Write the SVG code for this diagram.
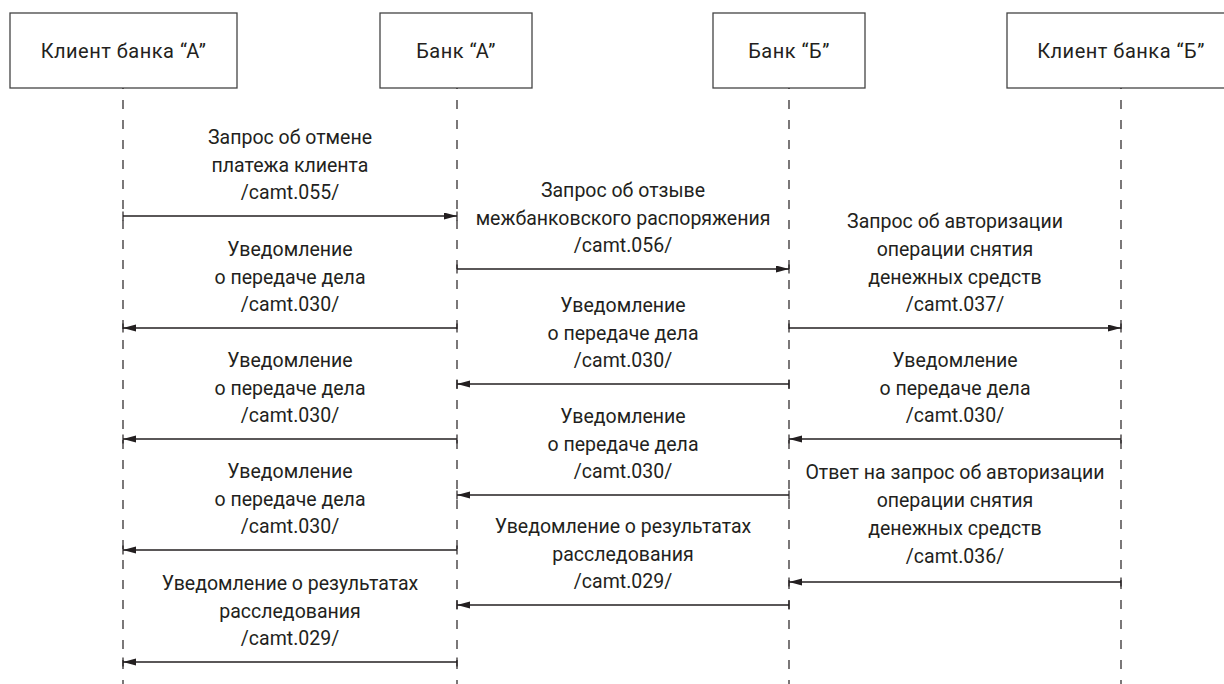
<svg xmlns="http://www.w3.org/2000/svg" width="1224" height="684" viewBox="0 0 1224 684">
<style>
.box{fill:#fff;stroke:#444;stroke-width:1.3}
.t{font-family:Roboto,"Liberation Sans",sans-serif;font-size:19.5px;fill:#231f20;text-anchor:middle}
.h{font-size:20px;letter-spacing:0.5px}
.life{stroke:#231f20;stroke-width:1.2;stroke-dasharray:9 11;stroke-dashoffset:-12;fill:none}
.tick{stroke:#231f20;stroke-width:1.2}
.msg{stroke:#231f20;stroke-width:1.3;fill:none;marker-end:url(#ah)}
</style>
<defs>
<marker id="ah" markerUnits="userSpaceOnUse" markerWidth="14" markerHeight="8" refX="13" refY="3.5" orient="auto">
<path d="M0,0 L13,3.5 L0,7 z" fill="#231f20"/>
</marker>
</defs>
<rect width="1224" height="684" fill="#fff"/>
<g id="node-clientA"><rect class="box" x="10" y="13" width="227" height="75"/><text class="t h" x="123.5" y="57.5">Клиент банка “А”</text></g>
<g id="node-bankA"><rect class="box" x="380" y="13" width="152" height="75"/><text class="t h" x="456" y="57.5">Банк “А”</text></g>
<g id="node-bankB"><rect class="box" x="713" y="13" width="152" height="75"/><text class="t h" x="789" y="57.5">Банк “Б”</text></g>
<g id="node-clientB"><rect class="box" x="1007" y="13" width="240" height="75"/><text class="t h" x="1121" y="57.5">Клиент банка “Б”</text></g>
<g id="lifelines">
<line class="life" x1="123" y1="88" x2="123" y2="684"/>
<line class="life" x1="457" y1="88" x2="457" y2="684"/>
<line class="life" x1="789" y1="88" x2="789" y2="684"/>
<line class="life" x1="1121" y1="88" x2="1121" y2="684"/>
<path class="tick" d="M123,211.5v9M457,211.5v9M457,264.5v9M789,264.5v9M123,323.5v9M457,323.5v9M789,323.5v9M1121,323.5v9M457,379.5v9M789,379.5v9M123,434.5v9M457,434.5v9M789,434.5v9M1121,434.5v9M457,490.5v9M789,490.5v9M123,545.5v9M457,545.5v9M789,577.5v9M1121,577.5v9M457,600.5v9M789,600.5v9M123,657.5v9M457,657.5v9"/>
</g>
<g id="connectors">
<line class="msg" x1="123" y1="216" x2="457" y2="216"/>
<line class="msg" x1="457" y1="269" x2="789" y2="269"/>
<line class="msg" x1="457" y1="328" x2="123" y2="328"/>
<line class="msg" x1="789" y1="328" x2="1121" y2="328"/>
<line class="msg" x1="789" y1="384" x2="457" y2="384"/>
<line class="msg" x1="457" y1="439" x2="123" y2="439"/>
<line class="msg" x1="1121" y1="439" x2="789" y2="439"/>
<line class="msg" x1="789" y1="495" x2="457" y2="495"/>
<line class="msg" x1="457" y1="550" x2="123" y2="550"/>
<line class="msg" x1="1121" y1="582" x2="789" y2="582"/>
<line class="msg" x1="789" y1="605" x2="457" y2="605"/>
<line class="msg" x1="457" y1="662" x2="123" y2="662"/>
</g>
<g id="labels">
<text class="t" x="290" y="144">Запрос об отмене</text>
<text class="t" x="290" y="171.5">платежа клиента</text>
<text class="t" x="290" y="199">/camt.055/</text>

<text class="t" x="623" y="197">Запрос об отзыве</text>
<text class="t" x="623" y="224.5">межбанковского распоряжения</text>
<text class="t" x="623" y="252">/camt.056/</text>

<text class="t" x="290" y="256">Уведомление</text>
<text class="t" x="290" y="283.5">о передаче дела</text>
<text class="t" x="290" y="311">/camt.030/</text>

<text class="t" x="955" y="227.5">Запрос об авторизации</text>
<text class="t" x="955" y="255.5">операции снятия</text>
<text class="t" x="955" y="283.5">денежных средств</text>
<text class="t" x="955" y="311">/camt.037/</text>

<text class="t" x="623" y="312">Уведомление</text>
<text class="t" x="623" y="339.5">о передаче дела</text>
<text class="t" x="623" y="367">/camt.030/</text>

<text class="t" x="290" y="367">Уведомление</text>
<text class="t" x="290" y="394.5">о передаче дела</text>
<text class="t" x="290" y="422">/camt.030/</text>

<text class="t" x="955" y="367">Уведомление</text>
<text class="t" x="955" y="394.5">о передаче дела</text>
<text class="t" x="955" y="422">/camt.030/</text>

<text class="t" x="623" y="423">Уведомление</text>
<text class="t" x="623" y="450.5">о передаче дела</text>
<text class="t" x="623" y="478">/camt.030/</text>

<text class="t" x="290" y="478">Уведомление</text>
<text class="t" x="290" y="505.5">о передаче дела</text>
<text class="t" x="290" y="533">/camt.030/</text>

<text class="t" x="955" y="479">Ответ на запрос об авторизации</text>
<text class="t" x="955" y="507">операции снятия</text>
<text class="t" x="955" y="535">денежных средств</text>
<text class="t" x="955" y="563">/camt.036/</text>

<text class="t" x="623" y="533">Уведомление о результатах</text>
<text class="t" x="623" y="560.5">расследования</text>
<text class="t" x="623" y="588">/camt.029/</text>

<text class="t" x="290" y="590">Уведомление о результатах</text>
<text class="t" x="290" y="617.5">расследования</text>
<text class="t" x="290" y="645">/camt.029/</text>
</g>
</svg>
